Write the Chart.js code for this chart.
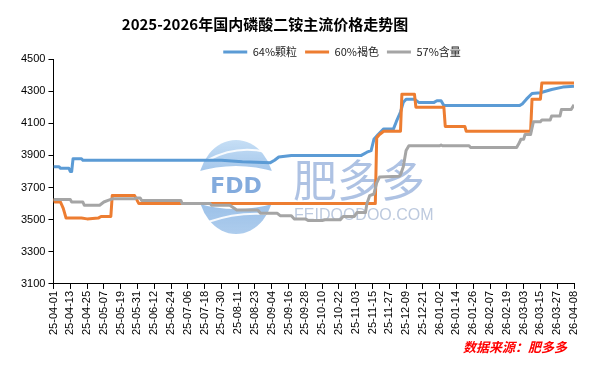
<!DOCTYPE html>
<html>
<head>
<meta charset="utf-8">
<script src="https://cdn.jsdelivr.net/npm/chart.js@4"></script>
<style>
  body { margin: 0; background: #fff; }
  canvas { display: block; }
</style>
</head>
<body>
<canvas id="chartdap" width="606" height="367"></canvas>
<script>
// tick labels, one every 12 days from 25-04-01
const tickLabels = ['25-04-01','25-04-13','25-04-25','25-05-07','25-05-19','25-05-31','25-06-12','25-06-24',
  '25-07-06','25-07-18','25-07-30','25-08-11','25-08-23','25-09-04','25-09-16','25-09-28','25-10-10',
  '25-10-22','25-11-03','25-11-15','25-11-27','25-12-09','25-12-21','26-01-02','26-01-14','26-01-26',
  '26-02-07','26-02-19','26-03-03','26-03-15','26-03-27','26-04-08'];

const seriesNames = ['64%颗粒', '60%褐色', '57%含量'];

// days counted from 25-04-01, price in 元/吨
const g64Days   = [0, 4, 5, 11, 12, 13, 14, 20, 21, 120, 135, 155, 158, 161, 170, 220, 224, 227, 229, 232, 236, 243, 245, 248, 250, 252, 258, 261, 272, 274, 277, 279, 333, 335, 338, 342, 348, 356, 364, 372];
const g64Prices = [3830, 3830, 3820, 3820, 3800, 3800, 3880, 3880, 3870, 3870, 3860, 3855, 3870, 3890, 3900, 3900, 3920, 3930, 4000, 4030, 4065, 4065, 4110, 4170, 4230, 4250, 4250, 4230, 4230, 4240, 4240, 4210, 4210, 4220, 4250, 4285, 4290, 4310, 4325, 4330];

const b60Days   = [0, 1, 5, 7, 9, 20, 24, 32, 34, 41, 42, 58, 61, 230, 231, 233, 236, 248, 249, 258, 259, 279, 280, 294, 295, 341, 342, 348, 349, 372];
const b60Prices = [3630, 3610, 3610, 3570, 3510, 3510, 3505, 3510, 3520, 3520, 3650, 3650, 3600, 3600, 4010, 4030, 4050, 4050, 4280, 4280, 4200, 4200, 4080, 4080, 4050, 4050, 4250, 4250, 4350, 4350];

const c57Days   = [0, 12, 13, 21, 22, 33, 36, 39, 42, 58, 59, 62, 63, 91, 92, 112, 113, 126, 131, 146, 148, 160, 162, 170, 172, 180, 182, 192, 194, 205, 207, 215, 217, 223, 224, 226, 229, 231, 233, 247, 248, 250, 252, 254, 276, 277, 278, 297, 298, 331, 333, 334, 336, 337, 341, 343, 348, 349, 355, 356, 362, 363, 370, 372];
const c57Prices = [3625, 3625, 3610, 3610, 3590, 3590, 3610, 3620, 3630, 3630, 3635, 3635, 3620, 3620, 3600, 3600, 3590, 3590, 3560, 3560, 3540, 3540, 3525, 3525, 3505, 3505, 3495, 3495, 3500, 3500, 3520, 3520, 3545, 3545, 3600, 3650, 3660, 3730, 3765, 3770, 3780, 3830, 3930, 3960, 3960, 3965, 3960, 3960, 3950, 3950, 3980, 4000, 4000, 4030, 4030, 4110, 4110, 4120, 4120, 4145, 4145, 4185, 4185, 4215];

const toPoints = (days, prices) => days.map((d, i) => ({ x: d, y: prices[i] }));

// watermark + source note
const decor = {
  id: 'decor',
  afterLayout(chart) {
    const t = chart.titleBlock;
    t.left -= 31; t.right -= 31; t.top += 3; t.bottom += 3;
    const l = chart.legend;
    l.left += 46; l.right += 46; l.top += 8.5; l.bottom += 8.5;
  },
  beforeDatasetsDraw(chart) {
    const ctx = chart.ctx;
    ctx.save();
    const cx = 236, cy = 187;
    const grad = ctx.createLinearGradient(0, 139, 0, 235);
    grad.addColorStop(0, 'rgba(190,218,244,0.85)');
    grad.addColorStop(0.5, 'rgba(120,170,224,0.8)');
    grad.addColorStop(1, 'rgba(160,196,234,0.85)');
    ctx.fillStyle = grad;
    // top leaf
    ctx.save();
    ctx.beginPath();
    ctx.moveTo(cx - 40, 172);
    ctx.quadraticCurveTo(cx, 160, cx + 40, 172);
    ctx.lineTo(cx + 40, 130); ctx.lineTo(cx - 40, 130);
    ctx.closePath();
    ctx.clip();
    ctx.beginPath(); ctx.ellipse(cx, cy, 38, 47, 0, 0, Math.PI * 2); ctx.fill();
    ctx.restore();
    // bottom leaf
    ctx.save();
    ctx.beginPath();
    ctx.moveTo(cx - 40, 203);
    ctx.quadraticCurveTo(cx, 215, cx + 40, 203);
    ctx.lineTo(cx + 40, 245); ctx.lineTo(cx - 40, 245);
    ctx.closePath();
    ctx.clip();
    ctx.beginPath(); ctx.ellipse(cx, cy, 38, 47, 0, 0, Math.PI * 2); ctx.fill();
    ctx.restore();
    // white swooshes
    ctx.strokeStyle = 'rgba(255,255,255,0.9)';
    ctx.lineWidth = 2;
    ctx.beginPath(); ctx.moveTo(cx - 28, 160); ctx.quadraticCurveTo(cx, 145, cx + 30, 152); ctx.stroke();
    ctx.beginPath(); ctx.moveTo(cx - 28, 222); ctx.quadraticCurveTo(cx, 212, cx + 30, 214); ctx.stroke();

    ctx.textBaseline = 'middle';
    ctx.fillStyle = 'rgba(100,150,212,0.8)';
    ctx.font = 'bold 22px "DejaVu Sans"';
    ctx.textAlign = 'center';
    ctx.fillText('FDD', cx, cy);
    ctx.textAlign = 'left';
    ctx.fillStyle = 'rgba(140,168,215,0.7)';
    ctx.font = '44px "Noto Sans CJK SC"';
    ctx.fillText('肥多多', 293, 180);
    ctx.fillStyle = 'rgba(160,178,208,0.7)';
    ctx.font = '16px "Liberation Sans"';
    ctx.fillText('FEIDOODOO.COM', 294, 216);
    ctx.restore();
  },
  afterDraw(chart) {
    const ctx = chart.ctx;
    ctx.save();
    ctx.fillStyle = '#ff0000';
    ctx.font = 'italic bold 13px "Noto Sans CJK SC"';
    ctx.textAlign = 'right';
    ctx.textBaseline = 'middle';
    ctx.fillText('数据来源：肥多多', 567, 347);
    ctx.restore();
  }
};

const axisFont = { family: '"Liberation Sans", Arial, sans-serif', size: 11 };

const chartDap = new Chart(document.getElementById('chartdap').getContext('2d'), {
  type: 'line',
  data: {
    datasets: [
      { label: seriesNames[0], data: toPoints(g64Days, g64Prices), borderColor: '#5b9bd5', backgroundColor: '#5b9bd5', order: 2 },
      { label: seriesNames[1], data: toPoints(b60Days, b60Prices), borderColor: '#ed7d31', backgroundColor: '#ed7d31', order: 1 },
      { label: seriesNames[2], data: toPoints(c57Days, c57Prices), borderColor: '#a5a5a5', backgroundColor: '#a5a5a5', order: 0 }
    ]
  },
  options: {
    responsive: false,
    animation: false,
    layout: { padding: { top: 3, left: 18, right: 32, bottom: 30 } },
    elements: {
      line: { borderWidth: 3, tension: 0, borderJoinStyle: 'round' },
      point: { radius: 0 }
    },
    plugins: {
      title: {
        display: true,
        text: '2025-2026年国内磷酸二铵主流价格走势图',
        color: '#000',
        font: { family: '"Noto Sans CJK SC"', size: 15, weight: 'bold', lineHeight: 1.2 },
        padding: { top: 9, bottom: 0 }
      },
      legend: {
        display: true,
        labels: {
          color: '#222',
          font: { family: '"Noto Sans CJK SC"', size: 11 },
          boxWidth: 24,
          boxHeight: 3,
          padding: 8,
          generateLabels(chart) {
            const items = Chart.defaults.plugins.legend.labels.generateLabels(chart);
            items.forEach(it => { it.lineWidth = 0; it.fillStyle = it.strokeStyle; });
            return items.sort((a, b) => a.datasetIndex - b.datasetIndex);
          }
        }
      },
      tooltip: { enabled: false }
    },
    scales: {
      x: {
        type: 'linear',
        min: 0,
        max: 372,
        grid: { display: true, drawOnChartArea: false, drawTicks: true, tickLength: 5, color: '#000' },
        border: { display: true, color: '#000', width: 1 },
        ticks: {
          stepSize: 12,
          autoSkip: false,
          maxRotation: 90,
          minRotation: 90,
          padding: 2,
          color: '#000',
          font: axisFont,
          callback: (v) => tickLabels[Math.round(v / 12)]
        }
      },
      y: {
        min: 3100,
        max: 4500,
        grid: { display: true, drawOnChartArea: false, drawTicks: true, tickLength: 5, color: '#000' },
        border: { display: true, color: '#000', width: 1 },
        ticks: { stepSize: 200, padding: 3, color: '#000', font: axisFont, callback: (v) => String(v) }
      }
    }
  },
  plugins: [decor]
});
</script>
</body>
</html>
